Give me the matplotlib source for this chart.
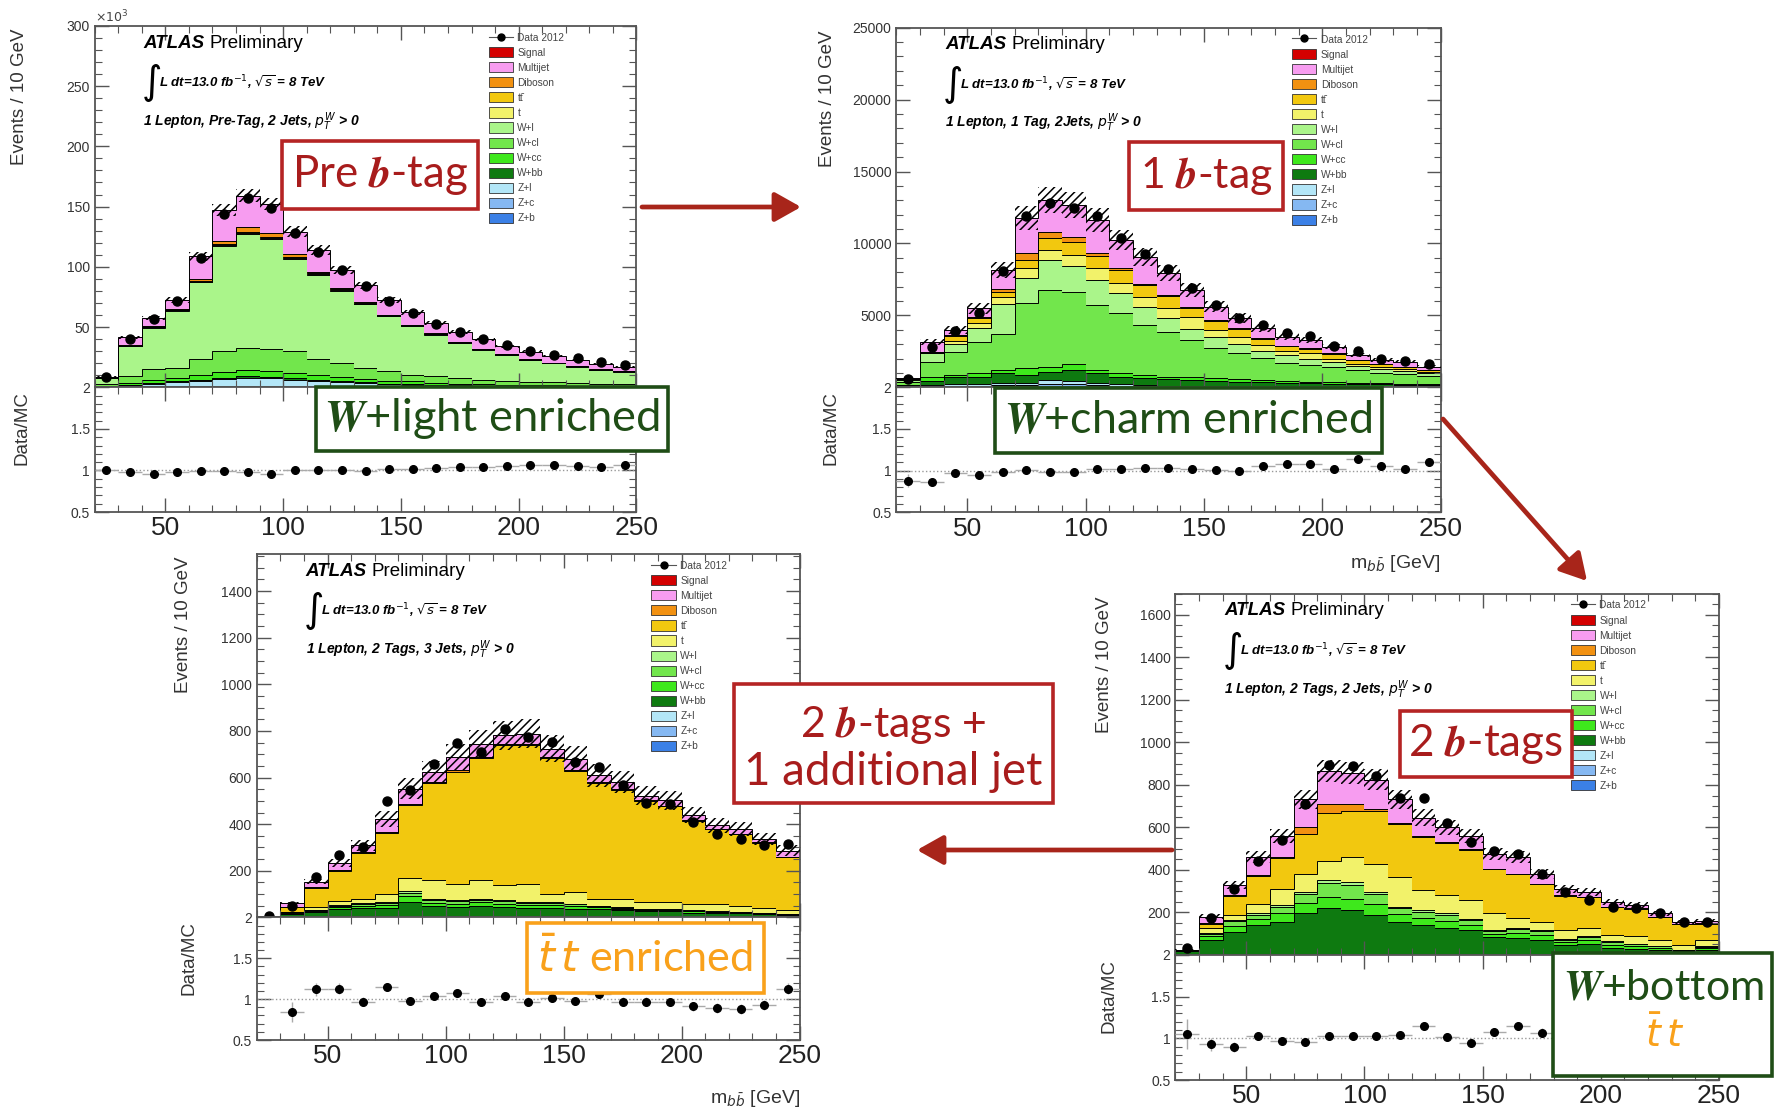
import numpy as np
import matplotlib
matplotlib.use("Agg")
import matplotlib.pyplot as plt
from matplotlib.patches import Patch, Rectangle, FancyArrowPatch
from matplotlib.lines import Line2D
from matplotlib.ticker import MultipleLocator, FuncFormatter

W, H = 1776, 1109
plt.rcParams['font.family'] = ['Liberation Sans', 'DejaVu Sans']
plt.rcParams['hatch.linewidth'] = 1.1

edges = np.arange(20, 251, 10)
centers = edges[:-1] + 5

# ---- panel A: pre-tag (values in 10^3 events) ----
A_data = [9, 40, 57, 72, 107, 144, 157, 149, 128, 112, 97, 84, 72, 62, 53, 46, 40, 35, 30, 27, 24, 21, 18.5]
A_ratio = [1.0, 0.98, 0.96, 0.98, 0.99, 0.99, 0.98, 0.96, 1.0, 1.0, 1.01, 0.99, 1.02, 1.02, 1.03, 1.04, 1.04, 1.05, 1.06, 1.06, 1.05, 1.04, 1.06]
A_rerr = [0.03, 0.01, 0.01, 0.01, 0.01, 0.01, 0.01, 0.01, 0.01, 0.01, 0.01, 0.01, 0.01, 0.01, 0.01, 0.01, 0.01, 0.01, 0.01, 0.01, 0.01, 0.01, 0.01]
A_zb = [0, 0.1, 0.2, 0.2, 0.2, 0.3, 0.3, 0.3, 0.3, 0.2, 0.2, 0.2, 0.1, 0.1, 0.1, 0.1, 0.1, 0, 0, 0, 0, 0, 0]
A_zc = [0.1, 0.3, 0.4, 0.5, 0.6, 0.7, 0.8, 0.8, 0.7, 0.6, 0.5, 0.4, 0.3, 0.3, 0.2, 0.2, 0.2, 0.1, 0.1, 0.1, 0.1, 0.1, 0.1]
A_zl = [0.3, 1.5, 2.5, 3.5, 4.5, 5.8, 6.5, 6.3, 5.5, 4.5, 3.6, 2.8, 2.2, 1.8, 1.4, 1.1, 0.9, 0.7, 0.6, 0.5, 0.4, 0.3, 0.3]
A_wbb = [0.1, 0.4, 0.6, 0.8, 1.0, 1.3, 1.5, 1.4, 1.2, 1.0, 0.8, 0.7, 0.6, 0.5, 0.4, 0.3, 0.3, 0.2, 0.2, 0.2, 0.1, 0.1, 0.1]
A_wcc = [0.3, 1.5, 2.5, 3.0, 4.0, 4.5, 5.0, 5.0, 4.5, 4.0, 3.5, 3.0, 2.5, 2.2, 1.8, 1.5, 1.3, 1.1, 1.0, 0.9, 0.8, 0.7, 0.6]
A_wcl = [2.3, 5.4, 8.8, 8.5, 13.2, 17.2, 18.5, 18.3, 17.6, 13.2, 12.0, 9.3, 7.7, 5.7, 5.2, 4.6, 3.6, 3.5, 2.7, 2.4, 2.2, 1.9, 1.5]
A_wl = [5.0, 24.9, 34.5, 47.0, 63.6, 87.9, 94.9, 91.2, 76.8, 69.7, 59.5, 52.5, 45.6, 40.1, 34.6, 29.0, 24.8, 21.3, 18.1, 15.9, 13.6, 11.4, 10.5]
A_t = [0.1, 0.3, 0.4, 0.5, 0.6, 0.8, 0.9, 0.9, 0.8, 0.7, 0.6, 0.5, 0.4, 0.4, 0.3, 0.3, 0.3, 0.2, 0.2, 0.2, 0.2, 0.1, 0.1]
A_tt = [0.1, 0.3, 0.4, 0.5, 0.6, 0.7, 0.8, 0.8, 0.8, 0.7, 0.6, 0.5, 0.5, 0.4, 0.4, 0.3, 0.3, 0.3, 0.2, 0.2, 0.2, 0.2, 0.2]
A_dib = [0.1, 0.4, 0.6, 0.8, 1.5, 2.5, 3.5, 3.0, 2.5, 1.5, 0.8, 0.6, 0.5, 0.4, 0.4, 0.3, 0.3, 0.2, 0.2, 0.2, 0.2, 0.1, 0.1]
A_mj = [0.5, 6.3, 6.7, 7.4, 19.0, 25.3, 26.4, 24.1, 18.3, 17.7, 15.6, 14.1, 12.0, 10.5, 8.5, 8.6, 7.7, 6.5, 6.3, 5.5, 4.8, 4.7, 3.6]

# ---- panel B: 1 b-tag ----
B_data = [550, 2800, 3900, 5200, 8100, 11900, 12800, 12500, 11900, 10400, 9300, 8200, 6900, 5700, 4800, 4350, 3800, 3550, 2900, 2550, 2000, 1800, 1600]
B_ratio = [0.88, 0.87, 0.97, 0.95, 0.99, 1.01, 0.98, 0.99, 1.02, 1.02, 1.03, 1.03, 1.02, 1.01, 1.0, 1.06, 1.08, 1.08, 1.02, 1.14, 1.06, 1.02, 1.11]
B_rerr = [0.08, 0.03, 0.03, 0.02, 0.02, 0.02, 0.02, 0.02, 0.02, 0.02, 0.02, 0.02, 0.02, 0.02, 0.02, 0.02, 0.03, 0.03, 0.03, 0.03, 0.03, 0.03, 0.03]
B_zb = [0, 20, 30, 40, 50, 50, 80, 70, 40, 30, 20, 20, 20, 10, 10, 10, 10, 10, 10, 10, 0, 0, 0]
B_zc = [10, 50, 70, 80, 100, 100, 150, 130, 100, 70, 50, 40, 30, 30, 20, 20, 10, 10, 10, 10, 10, 10, 10]
B_zl = [20, 80, 100, 130, 150, 150, 280, 250, 160, 100, 80, 60, 50, 40, 40, 30, 30, 30, 20, 20, 20, 20, 20]
B_wbb = [70, 310, 500, 490, 670, 560, 580, 750, 670, 500, 480, 440, 400, 370, 330, 290, 250, 230, 210, 180, 170, 150, 130]
B_wcc = [50, 240, 160, 230, 230, 460, 350, 420, 230, 270, 230, 180, 200, 180, 160, 160, 150, 120, 110, 100, 80, 70, 60]
B_wcl = [200, 1080, 1620, 2200, 2500, 4520, 5330, 5030, 4520, 4170, 3470, 3130, 2590, 2080, 1800, 1510, 1270, 1160, 1030, 880, 710, 680, 570]
B_wl = [180, 580, 530, 930, 2090, 1740, 2080, 1780, 1740, 1390, 1230, 930, 760, 770, 650, 530, 530, 440, 390, 280, 260, 230, 180]
B_t = [20, 50, 240, 350, 460, 690, 700, 770, 810, 700, 740, 690, 860, 510, 510, 390, 240, 360, 220, 140, 150, 90, 80]
B_tt = [20, 40, 300, 350, 400, 580, 810, 930, 880, 920, 780, 830, 620, 630, 520, 420, 370, 310, 330, 260, 200, 170, 130]
B_dib = [10, 30, 90, 110, 160, 460, 460, 300, 160, 120, 100, 100, 80, 60, 60, 50, 40, 40, 30, 20, 20, 20, 20]
B_mj = [40, 690, 350, 580, 1350, 2440, 2200, 2240, 2320, 1970, 1900, 1500, 1160, 930, 700, 690, 620, 580, 470, 350, 280, 340, 240]

# ---- panel C: 2 b-tags, 3 jets ----
C_data = [8, 49, 173, 266, 300, 498, 545, 659, 749, 709, 809, 774, 752, 666, 645, 566, 492, 488, 409, 359, 337, 312, 316]
C_ratio = [np.nan, 0.84, 1.12, 1.13, 0.97, 1.15, 0.98, 1.04, 1.08, 0.96, 1.04, 0.97, 1.01, 0.98, 1.06, 0.97, 0.97, 0.96, 0.91, 0.89, 0.88, 0.93, 1.13]
C_rerr = [0, 0.12, 0.08, 0.07, 0.06, 0.05, 0.05, 0.05, 0.05, 0.05, 0.05, 0.05, 0.05, 0.05, 0.05, 0.05, 0.05, 0.05, 0.05, 0.06, 0.06, 0.06, 0.07]
C_wbb = [2, 15, 22, 35, 40, 42, 65, 48, 45, 48, 45, 42, 42, 38, 34, 30, 26, 26, 21, 19, 17, 15, 12]
C_wcc = [0.5, 4, 5, 9, 10, 12, 25, 15, 14, 16, 14, 12, 12, 11, 9, 7, 6, 6, 5, 4, 3, 3, 2]
C_wcl = [0.5, 3, 4, 7, 9, 8, 15, 12, 10, 11, 10, 8, 8, 7, 6, 5, 4, 4, 3, 2, 2, 1.5, 1.5]
C_wl = [0, 1, 2, 3, 4, 4, 7, 5, 4, 5, 4, 4, 4, 3, 2, 2, 1, 1, 1, 1, 1, 0.5, 0.5]
C_t = [1, 2, 11, 16, 14, 34, 58, 79, 71, 79, 64, 78, 36, 50, 29, 36, 29, 29, 29, 33, 28, 20, 14]
C_tt = [1, 18, 84, 129, 199, 261, 312, 416, 481, 523, 602, 595, 581, 517, 497, 468, 433, 411, 354, 319, 306, 281, 227]
C_dib = [0, 1, 2, 3, 4, 5, 6, 6, 6, 6, 6, 6, 5, 5, 4, 4, 3, 3, 3, 2, 2, 2, 2]
C_mj = [0, 19, 24, 31, 29, 57, 64, 42, 57, 57, 36, 43, 36, 50, 28, 29, 21, 22, 22, 15, 21, 14, 28]

# ---- panel D: 2 b-tags, 2 jets ----
D_data = [33, 172, 312, 444, 541, 709, 895, 887, 841, 740, 737, 623, 530, 491, 476, 382, 297, 258, 227, 219, 196, 157, 157]
D_ratio = [1.05, 0.93, 0.90, 1.03, 0.97, 0.96, 1.03, 1.03, 1.03, 1.04, 1.15, 1.02, 0.95, 1.08, 1.15, 1.07, 0.95, 0.9, 1.0, 1.0, 1.0, 1.0, 0.98]
D_rerr = [0.18, 0.08, 0.06, 0.05, 0.05, 0.04, 0.04, 0.04, 0.04, 0.04, 0.04, 0.04, 0.05, 0.05, 0.05, 0.05, 0.06, 0.06, 0.07, 0.07, 0.07, 0.08, 0.08]
D_zb = [0, 1, 1, 1, 2, 3, 5, 6, 6, 4, 2, 1, 1, 1, 1, 1, 0, 0, 0, 0, 0, 0, 0]
D_wbb = [18, 70, 106, 140, 155, 193, 214, 205, 182, 153, 139, 125, 117, 83, 78, 70, 48, 53, 33, 28, 25, 17, 25]
D_wcc = [2, 16, 28, 27, 40, 49, 54, 54, 53, 35, 35, 35, 25, 17, 23, 23, 13, 17, 15, 13, 9, 4, 7]
D_wcl = [2, 12, 24, 22, 30, 42, 65, 65, 45, 28, 28, 28, 20, 14, 19, 19, 11, 14, 13, 10, 8, 3, 6]
D_wl = [0, 4, 6, 6, 8, 10, 13, 13, 11, 7, 7, 7, 5, 3, 5, 5, 3, 3, 3, 2, 2, 1, 2]
D_t = [1, 23, 23, 46, 77, 85, 93, 117, 132, 140, 94, 85, 90, 78, 46, 39, 43, 39, 31, 34, 27, 23, 31]
D_tt = [1, 22, 91, 130, 143, 187, 226, 218, 249, 251, 252, 245, 237, 207, 207, 176, 161, 145, 130, 130, 107, 97, 77]
D_dib = [0, 1, 2, 3, 5, 31, 39, 31, 7, 5, 4, 4, 4, 3, 3, 3, 2, 2, 2, 2, 2, 1, 1]
D_mj = [1, 31, 47, 85, 101, 132, 155, 147, 140, 109, 85, 70, 62, 70, 78, 46, 31, 24, 23, 16, 16, 11, 11]

stack_order = ['Z+b', 'Z+c', 'Z+l', 'W+bb', 'W+cc', 'W+cl', 'W+l', 't', 'ttbar', 'Diboson', 'Multijet', 'Signal']
colors = {
    'Signal': '#d40000', 'Multijet': '#f79cf0', 'Diboson': '#f29111', 'ttbar': '#f2c80f',
    't': '#f2f26a', 'W+l': '#aaf58a', 'W+cl': '#72e64c', 'W+cc': '#3ee81c',
    'W+bb': '#0e7a10', 'Z+l': '#b3e6f7', 'Z+c': '#85b8f2', 'Z+b': '#3b80e6',
}
leg_labels = {'Signal': 'Signal', 'Multijet': 'Multijet', 'Diboson': 'Diboson', 'ttbar': 'tt\u0304',
              't': 't', 'W+l': 'W+l', 'W+cl': 'W+cl', 'W+cc': 'W+cc', 'W+bb': 'W+bb',
              'Z+l': 'Z+l', 'Z+c': 'Z+c', 'Z+b': 'Z+b'}

fig = plt.figure(figsize=(W / 100, H / 100), dpi=100)


def px_rect(l, t, r, b):
    return [l / W, 1 - b / H, (r - l) / W, (b - t) / H]


def style_axes(ax):
    ax.set_xlim(20, 250)
    ax.xaxis.set_major_locator(MultipleLocator(50))
    ax.xaxis.set_minor_locator(MultipleLocator(10))
    ax.tick_params(which='both', direction='in', top=True, right=True, color='#555555',
                   labelcolor='#333333')
    ax.tick_params(which='major', length=10, width=1)
    ax.tick_params(which='minor', length=5, width=0.8)
    for s in ax.spines.values():
        s.set_color('#555555')
        s.set_linewidth(1.3)


def draw_panel(main_px, ratio_px, layers, data, ratio, rerr, band, ymax, ymaj, ymin_, label,
               ylab_off, dmc_off):
    ax = fig.add_axes(px_rect(*main_px))
    rx = fig.add_axes(px_rect(*ratio_px))
    bottom = np.zeros(len(centers))
    for name in stack_order:
        vals = layers.get(name)
        if vals is None:
            continue
        top = bottom + np.asarray(vals, float)
        ax.stairs(top, edges, baseline=bottom, fill=True, color=colors[name], lw=0)
        ax.stairs(top, edges, baseline=None, color='black', lw=0.7)
        bottom = top
    ax.bar(centers, 2 * band * bottom, bottom=bottom * (1 - band), width=10, fill=False,
           hatch='////', edgecolor='black', linewidth=0, zorder=3)
    ax.plot(centers, data, 'o', color='black', ms=6.5, zorder=4)
    style_axes(ax)
    ax.set_ylim(0, ymax)
    ax.yaxis.set_major_locator(MultipleLocator(ymaj))
    ax.yaxis.set_minor_locator(MultipleLocator(ymin_))
    ax.yaxis.set_major_formatter(FuncFormatter(lambda v, p: '' if v == 0 else f'{v:g}'))
    ax.tick_params(axis='y', labelsize=10)
    ax.tick_params(axis='x', labelbottom=False)

    hpx = main_px[3] - main_px[1]
    wpx = main_px[2] - main_px[0]
    atl = ax.text(0.09, 0.952, 'ATLAS', transform=ax.transAxes, fontsize=13.5,
                  fontweight='bold', style='italic', va='center')
    ax.annotate('Preliminary', xy=(1, 0), xycoords=atl, xytext=(5, 0),
                textcoords='offset pixels', fontsize=13.5, va='bottom')
    ax.text(0.085, 0.842, r'$\int$', transform=ax.transAxes, fontsize=20, va='center')
    ax.text(0.118, 0.842, r'L dt=13.0 fb$^{-1}$, $\sqrt{s}$ = 8 TeV', transform=ax.transAxes,
            fontsize=9.5, fontweight='bold', style='italic', va='center')
    ax.text(0.09, 0.735, label, transform=ax.transAxes, fontsize=10,
            fontweight='bold', style='italic', va='center')
    ax.text(-ylab_off / wpx, 1 - 3 / hpx, 'Events / 10 GeV', transform=ax.transAxes,
            rotation=90, ha='center', va='top', fontsize=13.5, color='#333333')

    handles = [Line2D([], [], color='#555555', marker='o', mfc='black', mec='black', ms=5, lw=0.8)]
    labels = ['Data 2012']
    for name in stack_order[::-1]:
        handles.append(Patch(facecolor=colors[name], edgecolor='#333333', lw=0.6))
        labels.append(leg_labels[name])
    ax.legend(handles, labels, loc='upper left', bbox_to_anchor=(0.727, 0.982), frameon=False,
              fontsize=7.3, handlelength=2.4, handleheight=1.15, labelspacing=0.45,
              borderpad=0, borderaxespad=0, handletextpad=0.45, labelcolor='#444444')

    # ratio
    rx.axhline(1, ls=':', color='#999999', lw=1)
    rx.errorbar(centers, ratio, xerr=5, yerr=rerr, fmt='o', color='black', ms=5.5,
                ecolor='#aaaaaa', elinewidth=1, capsize=0, zorder=3)
    style_axes(rx)
    rx.set_ylim(0.5, 2)
    rx.yaxis.set_major_locator(MultipleLocator(0.5))
    rx.yaxis.set_minor_locator(MultipleLocator(0.1))
    rx.yaxis.set_major_formatter(FuncFormatter(lambda v, p: f'{v:g}'))
    rx.tick_params(axis='y', labelsize=10)
    rx.tick_params(axis='x', labelsize=19, pad=3, labelcolor='#222222')
    rh = ratio_px[3] - ratio_px[1]
    rx.text(-dmc_off / wpx, 1 - 4 / rh, 'Data/MC', transform=rx.transAxes, rotation=90,
            ha='center', va='top', fontsize=13.5, color='#333333')
    return ax, rx


axA, rxA = draw_panel((94.7, 25.8, 636.4, 387.4), (94.7, 387.4, 636.4, 512.0),
                      {'Z+b': A_zb, 'Z+c': A_zc, 'Z+l': A_zl, 'W+bb': A_wbb, 'W+cc': A_wcc,
                       'W+cl': A_wcl, 'W+l': A_wl, 't': A_t, 'ttbar': A_tt, 'Diboson': A_dib,
                       'Multijet': A_mj},
                      A_data, A_ratio, A_rerr, 0.035, 300, 50, 10,
                      r'1 Lepton, Pre-Tag, 2 Jets, $p_T^W$ > 0', 75, 73)
axA.text(0, 1.0, r'$\times10^{3}$', transform=axA.transAxes, ha='left', va='bottom',
         fontsize=9, color='#444444')

axB, rxB = draw_panel((896.2, 27.7, 1440.5, 387.3), (896.2, 387.3, 1440.5, 512.4),
                      {'Z+b': B_zb, 'Z+c': B_zc, 'Z+l': B_zl, 'W+bb': B_wbb, 'W+cc': B_wcc,
                       'W+cl': B_wcl, 'W+l': B_wl, 't': B_t, 'ttbar': B_tt, 'Diboson': B_dib,
                       'Multijet': B_mj},
                      B_data, B_ratio, B_rerr, 0.07, 25000, 5000, 1000,
                      r'1 Lepton, 1 Tag, 2Jets, $p_T^W$ > 0', 69, 65)
rxB.text(1.0, -0.41, r'm$_{b\bar{b}}$ [GeV]', transform=rxB.transAxes, ha='right',
         va='center', fontsize=14, color='#333333')

axC, rxC = draw_panel((256.8, 553.8, 799.7, 917.4), (256.8, 917.4, 799.7, 1040.0),
                      {'W+bb': C_wbb, 'W+cc': C_wcc, 'W+cl': C_wcl, 'W+l': C_wl, 't': C_t,
                       'ttbar': C_tt, 'Diboson': C_dib, 'Multijet': C_mj},
                      C_data, C_ratio, C_rerr, 0.08, 1560, 200, 50,
                      r'1 Lepton, 2 Tags, 3 Jets, $p_T^W$ > 0', 73, 68)
rxC.text(1.0, -0.48, r'm$_{b\bar{b}}$ [GeV]', transform=rxC.transAxes, ha='right',
         va='center', fontsize=14, color='#333333')

axD, rxD = draw_panel((1175.4, 593.5, 1719.0, 955.0), (1175.4, 955.0, 1719.0, 1080.0),
                      {'Z+b': D_zb, 'W+bb': D_wbb, 'W+cc': D_wcc, 'W+cl': D_wcl, 'W+l': D_wl,
                       't': D_t, 'ttbar': D_tt, 'Diboson': D_dib, 'Multijet': D_mj},
                      D_data, D_ratio, D_rerr, 0.06, 1700, 200, 50,
                      r'1 Lepton, 2 Tags, 2 Jets, $p_T^W$ > 0', 71, 66)

# ---- annotation boxes and arrows ----
RED_EDGE, RED_TXT = '#b52424', '#a81c1c'
GREEN = '#1f4d16'
ORANGE = '#f9a11b'
renderer = fig.canvas.get_renderer()


def anno_box(l, t, r, b, ec):
    fig.add_artist(Rectangle((l / W, 1 - b / H), (r - l) / W, (b - t) / H,
                             transform=fig.transFigure, facecolor='white', edgecolor=ec,
                             linewidth=2.6, zorder=5))


def anno_text(cx, cy, s, color, width_px, mathfont='stix'):
    t = fig.text(cx / W, 1 - cy / H, s, ha='center', va='center', color=color,
                 fontsize=20, family=['Lato', 'DejaVu Sans'], math_fontfamily=mathfont,
                 zorder=6)
    bb = t.get_window_extent(renderer)
    t.set_fontsize(20 * width_px / bb.width)
    return t


def arrow(x0, y0, x1, y1):
    fig.add_artist(FancyArrowPatch((x0 / W, 1 - y0 / H), (x1 / W, 1 - y1 / H),
                                   transform=fig.transFigure, color='#a8251a', lw=3.4,
                                   arrowstyle='-|>,head_length=16,head_width=9',
                                   shrinkA=0, shrinkB=0, zorder=6))


anno_box(282, 141, 478, 209, RED_EDGE)
anno_text(380, 175, r'Pre $\mathbfit{b}$-tag', RED_TXT, 177)
anno_box(316, 387, 668, 451, GREEN)
anno_text(492, 419, r'$\mathbfit{W}$+light enriched', GREEN, 337)

anno_box(1129, 142, 1283, 210, RED_EDGE)
anno_text(1206, 176, r'1 $\mathbfit{b}$-tag', RED_TXT, 134)
anno_box(995, 388, 1382, 453, GREEN)
anno_text(1188, 420, r'$\mathbfit{W}$+charm enriched', GREEN, 369)

anno_box(734, 684, 1053, 803, RED_EDGE)
anno_text(893, 725, r'2 $\mathbfit{b}$-tags +', RED_TXT, 187)
anno_text(893, 772, '1 additional jet', RED_TXT, 299)
anno_box(527, 923, 764, 993, ORANGE)
anno_text(645, 958, r'$\bar{t}\,t$ enriched', ORANGE, 217, mathfont='dejavusans')

anno_box(1400, 711, 1572, 777, RED_EDGE)
anno_text(1486, 744, r'2 $\mathbfit{b}$-tags', RED_TXT, 156)
anno_box(1553, 953, 1772, 1076, GREEN)
anno_text(1663, 987, r'$\mathbfit{W}$+bottom', GREEN, 202)
anno_text(1665, 1035, r'$\bar{t}\,t$', ORANGE, 40, mathfont='dejavusans')

arrow(642, 207, 801, 207)
arrow(1443, 419, 1587, 581)
arrow(1172, 850, 917, 850)

fig.savefig('out.png', dpi=100)
